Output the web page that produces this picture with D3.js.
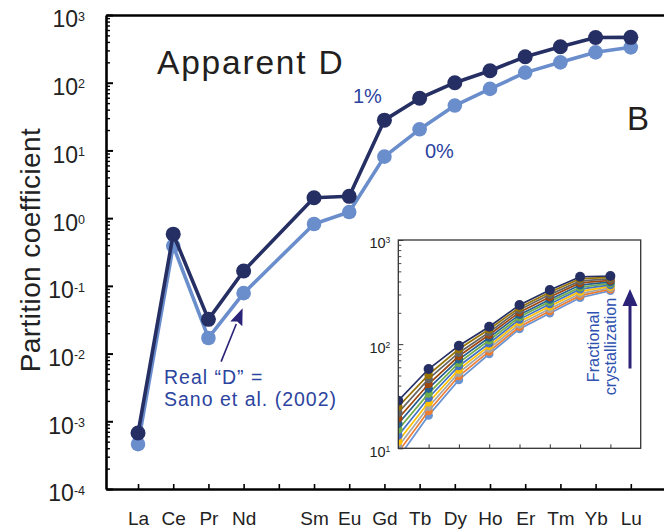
<!DOCTYPE html>
<html><head><meta charset="utf-8">
<script src="https://cdn.jsdelivr.net/npm/d3@7"></script>
<style>
body{margin:0;background:#fff;}
svg{display:block;}
text{font-family:"Liberation Sans",Arial,Helvetica,sans-serif;}
</style>
</head><body>
<svg id="chart" width="664" height="531"></svg>
<script>
// ---------- data ----------
const tickLabels = ["La","Ce","Pr","Nd","","Sm","Eu","Gd","Tb","Dy","Ho","Er","Tm","Yb","Lu"];
const reeIndex = [0,1,2,3,5,6,7,8,9,10,11,12,13,14];       // position of each REE on the axis (Pm skipped)
const apparent1pct = [6.7e-4, 0.58, 0.032, 0.166, 2.0, 2.1, 28, 59, 100, 150, 242, 340, 466, 468];
const apparent0pct = [4.6e-4, 0.39, 0.017, 0.078, 0.82, 1.23, 8.1, 20.5, 46, 81, 141, 200, 281, 333];
const yExponents = [3,2,1,0,-1,-2,-3,-4];

// inset: Gd..Lu for increasing fractional crystallization
const insetLabels = ["Gd","Tb","Dy","Ho","Er","Tm","Yb","Lu"];
const insetStep0  = [8.1, 20.7, 45.3, 80.4, 140, 198, 279, 326];
const insetStep1  = [9.2, 22.8, 49.4, 85.3, 147, 208, 292, 337];
const insetStep2  = [10.4, 25.1, 53.2, 90.8, 155, 219, 306, 348];
const insetStep3  = [11.7, 27.7, 57.3, 96.4, 164, 231, 321, 359];
const insetStep4  = [13.3, 30.6, 61.7, 102, 173, 243, 337, 371];
const insetStep5  = [15.2, 33.7, 66.4, 109, 182, 256, 352, 384];
const insetStep6  = [17.2, 37.6, 71.5, 116, 192, 269, 369, 396];
const insetStep7  = [19.4, 41.4, 76.9, 123, 203, 284, 387, 409];
const insetStep8  = [22.0, 46.3, 82.8, 130, 214, 299, 405, 423];
const insetStep9  = [25.1, 50.9, 89.8, 139, 225, 315, 425, 437];
const insetStep10 = [28.6, 57.7, 96.7, 147, 238, 331, 444, 451];
const insetColors = ["#6a93d2","#ed7d31","#a5a5a5","#ffc000","#4472c4","#70ad47","#255e91","#9e480e","#636363","#997300","#262f63"];
const insetSeries = [insetStep0,insetStep1,insetStep2,insetStep3,insetStep4,insetStep5,insetStep6,insetStep7,insetStep8,insetStep9,insetStep10];

// ---------- styles ----------
const DARK = "#262f63", LIGHT = "#6a8dcc", ANNOT = "#2c44a0", ARROW = "#2a2378";
const FONT = "'Liberation Sans',Arial,Helvetica,sans-serif";

const svg = d3.select("#chart");
svg.append("rect").attr("width",664).attr("height",531).attr("fill","#fff");

// ---------- main scales ----------
const x = d3.scaleLinear().domain([-0.91, 15]).range([106, 666]);
const y = d3.scaleLog().domain([1e-4, 1e3]).range([489, 15]);

// minor log ticks
const minorVals = [];
for (let e = -4; e < 3; e++) for (let m = 2; m <= 9; m++) minorVals.push(m * Math.pow(10, e));

const gMinor = svg.append("g").attr("transform","translate(106,0)")
  .call(d3.axisLeft(y).tickValues(minorVals).tickSizeInner(-4).tickSizeOuter(0).tickFormat(""));
gMinor.select(".domain").remove();
gMinor.selectAll(".tick line").attr("stroke","#000").attr("stroke-width",1.4);

const yMajor = yExponents.map(e => Math.pow(10, e));
const gY = svg.append("g").attr("transform","translate(106,0)")
  .call(d3.axisLeft(y).tickValues(yMajor).tickSizeInner(-7).tickSizeOuter(0).tickPadding(21));
gY.select(".domain").attr("stroke","#000").attr("stroke-width",2.6);
gY.selectAll(".tick line").attr("stroke","#000").attr("stroke-width",2);
gY.selectAll(".tick text").each(function(d){
  const t = d3.select(this);
  const e = Math.round(Math.log10(d));
  t.text(null).attr("dy","0.52em").attr("font-size",23).attr("font-family",FONT).attr("fill","#222");
  t.append("tspan").text("10");
  t.append("tspan").attr("dy",-6.7).attr("font-size",12.5).text(String(e));
});

// bottom axis
const gX = svg.append("g").attr("transform","translate(0,489)")
  .call(d3.axisBottom(x).tickValues(d3.range(15)).tickSizeInner(-5).tickSizeOuter(0)
    .tickPadding(23).tickFormat(i => tickLabels[i]));
gX.select(".domain").attr("stroke","#000").attr("stroke-width",2.6);
gX.selectAll(".tick line").attr("stroke","#000").attr("stroke-width",1.6);
gX.selectAll(".tick text").attr("font-size",19).attr("font-family",FONT).attr("fill","#222").attr("dy","0.71em");

// top frame line
const gTop = svg.append("g").attr("transform","translate(0,15)")
  .call(d3.axisTop(x).tickValues([]).tickSizeOuter(0));
gTop.select(".domain").attr("stroke","#000").attr("stroke-width",2.6);

// y title
svg.append("text").attr("transform","translate(40,250) rotate(-90)")
  .attr("text-anchor","middle").attr("font-size",28).attr("fill","#222")
  .attr("letter-spacing",0.4).text("Partition coefficient");

// ---------- main series ----------
const line = d3.line().x((d,i) => x(reeIndex[i])).y(d => y(d));
function drawSeries(vals, color, r){
  svg.append("path").datum(vals).attr("d", line).attr("fill","none")
    .attr("stroke", color).attr("stroke-width",3.6).attr("stroke-linejoin","round");
  svg.append("g").selectAll("circle").data(vals).join("circle")
    .attr("cx",(d,i)=>x(reeIndex[i])).attr("cy",d=>y(d)).attr("r",r).attr("fill",color);
}
drawSeries(apparent0pct, LIGHT, 7.3);
drawSeries(apparent1pct, DARK, 7.5);

// ---------- texts ----------
svg.append("text").attr("x",157).attr("y",73.5).attr("font-size",33.5).attr("letter-spacing",1.8)
  .attr("fill","#231f20").text("Apparent D");
svg.append("text").attr("x",627).attr("y",130).attr("font-size",33).attr("fill","#231f20").text("B");
svg.append("text").attr("x",353).attr("y",103).attr("font-size",20).attr("fill",ANNOT).text("1%");
svg.append("text").attr("x",425).attr("y",158).attr("font-size",20).attr("fill",ANNOT).text("0%");
svg.append("text").attr("x",164).attr("y",383.5).attr("font-size",19.5).attr("letter-spacing",1)
  .attr("fill",ANNOT).text("Real \u201CD\u201D =");
svg.append("text").attr("x",164).attr("y",405.5).attr("font-size",19.5).attr("letter-spacing",1)
  .attr("fill",ANNOT).text("Sano et al. (2002)");

// arrow to the "real D" (Nd of 0% curve)
(function(){
  const tipX = x(3) - 1, tipY = y(apparent0pct[3]) + 15;
  const startX = tipX - 21.5, startY = tipY + 53.5;
  const ang = Math.atan2(tipY - startY, tipX - startX);
  const L = 17, W = 6.5;
  const bx = tipX - L*Math.cos(ang), by = tipY - L*Math.sin(ang);
  svg.append("line").attr("x1",startX).attr("y1",startY).attr("x2",bx).attr("y2",by)
    .attr("stroke",ARROW).attr("stroke-width",1.6);
  const px = -Math.sin(ang), py = Math.cos(ang);
  svg.append("path").attr("d",`M${tipX},${tipY}L${bx+px*W},${by+py*W}L${bx+(tipX-bx)*0.15},${by+(tipY-by)*0.15}L${bx-px*W},${by-py*W}Z`)
    .attr("fill",ARROW);
})();

// ---------- inset ----------
const xi = d3.scaleLinear().domain([0, 8]).range([398.3, 640.7]);
const yi = d3.scaleLog().domain([10, 1000]).range([448.3, 240]);

svg.append("rect").attr("x",398.3).attr("y",240).attr("width",242.4).attr("height",208.3).attr("fill","#fff");
svg.append("clipPath").attr("id","insetClip").append("rect")
  .attr("x",398.3).attr("y",240).attr("width",242.4).attr("height",208.3);

const insetMinor = [];
for (let e = 1; e < 3; e++) for (let m = 2; m <= 9; m++) insetMinor.push(m * Math.pow(10, e));
const giMinor = svg.append("g").attr("transform","translate(398.3,0)")
  .call(d3.axisLeft(yi).tickValues(insetMinor).tickSizeInner(-3).tickSizeOuter(0).tickFormat(""));
giMinor.select(".domain").remove();
giMinor.selectAll(".tick line").attr("stroke","#333").attr("stroke-width",0.9);

const giY = svg.append("g").attr("transform","translate(398.3,0)")
  .call(d3.axisLeft(yi).tickValues([10,100,1000]).tickSizeInner(-5).tickSizeOuter(0).tickPadding(8));
giY.select(".domain").remove();
giY.selectAll(".tick line").attr("stroke","#333").attr("stroke-width",1);
giY.selectAll(".tick text").each(function(d){
  const t = d3.select(this);
  const e = Math.round(Math.log10(d));
  t.text(null).attr("dy","0.55em").attr("font-size",14.5).attr("font-family",FONT).attr("fill","#222");
  t.append("tspan").text("10");
  t.append("tspan").attr("dy",-5).attr("font-size",8.5).text(String(e));
});

const giX = svg.append("g").attr("transform","translate(0,448.3)")
  .call(d3.axisBottom(xi).tickValues(d3.range(1,8)).tickSizeInner(-4).tickSizeOuter(0).tickFormat(""));
giX.select(".domain").remove();
giX.selectAll(".tick line").attr("stroke","#333").attr("stroke-width",1);

const lineI = d3.line().x((d,i) => xi(i)).y(d => yi(d));
const gIn = svg.append("g").attr("clip-path","url(#insetClip)");
insetSeries.forEach((vals, k) => {
  gIn.append("path").datum(vals).attr("d", lineI).attr("fill","none")
    .attr("stroke", insetColors[k]).attr("stroke-width",1.7);
  gIn.append("g").selectAll("circle").data(vals).join("circle")
    .attr("cx",(d,i)=>xi(i)).attr("cy",d=>yi(d)).attr("r", k === insetSeries.length-1 ? 5 : 4.3)
    .attr("fill",insetColors[k]);
});

svg.append("rect").attr("x",398.3).attr("y",240).attr("width",242.4).attr("height",208.3)
  .attr("fill","none").attr("stroke","#333").attr("stroke-width",1.3);

// fractional crystallization label + arrow
svg.append("text").attr("transform","translate(598.5,346.5) rotate(-90)").attr("text-anchor","middle")
  .attr("font-size",16.3).attr("fill","#2f51b0").text("Fractional");
svg.append("text").attr("transform","translate(615.8,346.5) rotate(-90)").attr("text-anchor","middle")
  .attr("font-size",16.3).attr("fill","#2f51b0").text("crystallization");
svg.append("line").attr("x1",630).attr("y1",368.5).attr("x2",630).attr("y2",303)
  .attr("stroke",ARROW).attr("stroke-width",3);
svg.append("path").attr("d","M630,289L637.5,306L622.5,306Z").attr("fill",ARROW);
</script>
</body></html>
